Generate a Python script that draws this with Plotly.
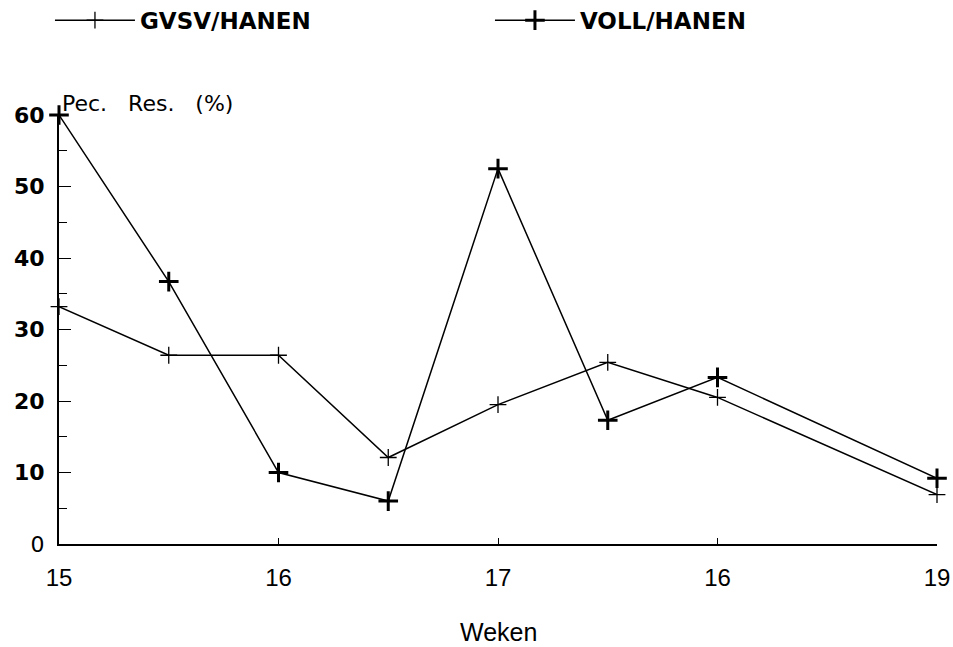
import plotly.graph_objects as go

weeks = [15, 15.5, 16, 16.5, 17, 17.5, 18, 19]
gvsv_hanen = [33.2, 26.4, 26.4, 12.1, 19.5, 25.4, 20.5, 6.9]
voll_hanen = [60.0, 36.7, 10.0, 6.0, 52.5, 17.3, 23.3, 9.2]

x_tick_vals = [15, 16, 17, 18, 19]
x_tick_text = ["15", "16", "17", "16", "19"]
y_tick_vals = [0, 10, 20, 30, 40, 50, 60]
y_tick_text = ["0", "<b>10</b>", "<b>20</b>", "<b>30</b>", "<b>40</b>", "<b>50</b>", "<b>60</b>"]

FONT = "Liberation Sans, Arial, sans-serif"
BOLDFONT = "DejaVu Sans, sans-serif"

fig = go.Figure()
fig.add_trace(go.Scatter(
    x=weeks, y=gvsv_hanen, mode="lines+markers", name="<b>GVSV/HANEN</b>",
    line=dict(color="black", width=1.5),
    marker=dict(symbol="cross-thin", size=12, line=dict(color="black", width=1.3)),
    cliponaxis=False,
))
fig.add_trace(go.Scatter(
    x=weeks, y=voll_hanen, mode="lines+markers", name="<b>VOLL/HANEN</b>",
    line=dict(color="black", width=1.5),
    marker=dict(symbol="cross-thin", size=14, line=dict(color="black", width=3)),
    cliponaxis=False,
))

fig.update_layout(
    width=953, height=647,
    paper_bgcolor="white", plot_bgcolor="white",
    margin=dict(l=59, r=16, t=115, b=103, autoexpand=False),
    font=dict(family=FONT, color="black", size=22),
    showlegend=True,
    legend=dict(
        orientation="h", x=-0.0103, y=1.221, xanchor="left", yanchor="middle",
        font=dict(family=BOLDFONT, size=23, color="black"),
        entrywidth=345, entrywidthmode="pixels",
        itemwidth=80, traceorder="normal", bgcolor="rgba(0,0,0,0)",
    ),
    xaxis=dict(
        range=[15, 19], tickvals=x_tick_vals, ticktext=x_tick_text,
        showgrid=False, zeroline=False, showline=True, linecolor="black", linewidth=2,
        ticks="inside", ticklen=6, tickcolor="black", tickwidth=1,
        tickfont=dict(family=FONT, size=24), ticklabelstandoff=11,
    ),
    yaxis=dict(
        range=[0, 60], tickvals=y_tick_vals, ticktext=y_tick_text,
        showgrid=False, zeroline=False, showline=True, linecolor="black", linewidth=2,
        ticks="inside", ticklen=12, tickcolor="black", tickwidth=1,
        tickfont=dict(family=BOLDFONT, size=22), ticklabelstandoff=8,
        minor=dict(dtick=5, ticks="inside", ticklen=8, tickcolor="black", tickwidth=1, showgrid=False),
    ),
    annotations=[
        dict(
            text="Pec.&nbsp;&nbsp; Res.&nbsp;&nbsp; (%)", xref="paper", yref="paper", x=0.0, y=1.0,
            xanchor="left", yanchor="bottom", xshift=1, yshift=-3, showarrow=False,
            font=dict(family=BOLDFONT, size=22, color="black"),
        ),
        dict(
            text="Weken", xref="paper", yref="paper", x=0.5, y=0.0,
            xanchor="center", yanchor="middle", yshift=-88, showarrow=False,
            font=dict(family=FONT, size=25, color="black"),
        ),
    ],
)

fig.write_html(
    "out.html",
    config={"displayModeBar": False},
    post_script="document.body.style.margin='0';document.body.style.padding='0';document.body.style.overflow='hidden';",
)
